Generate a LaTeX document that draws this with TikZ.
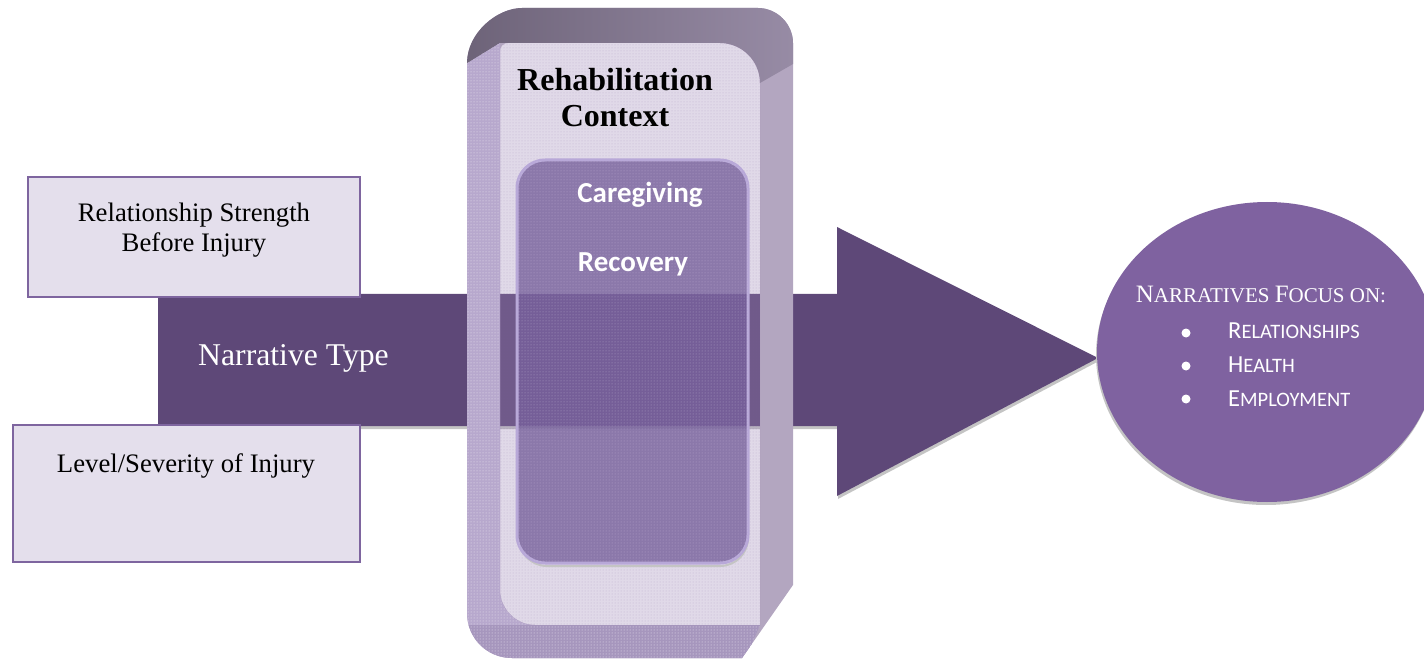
\documentclass[tikz,border=0pt]{standalone}
\usepackage{fontspec}
\setmainfont{Liberation Serif}
\newfontfamily\calfont{Carlito}
\usetikzlibrary{shapes.geometric,patterns}

\definecolor{arrowpurple}{RGB}{94,72,120}
\definecolor{boxfill}{RGB}{228,223,236}
\definecolor{boxline}{RGB}{126,101,159}
\definecolor{ellfill}{RGB}{127,98,160}
\definecolor{bodyside}{RGB}{179,166,192}
\definecolor{bodyleft}{RGB}{183,168,205}
\definecolor{bodybottom}{RGB}{166,150,189}
\definecolor{topdark}{RGB}{106,96,117}
\definecolor{toplight}{RGB}{152,140,166}
\definecolor{faceglass}{RGB}{155,132,180}
\definecolor{innerfill}{RGB}{119,96,156}
\definecolor{innerline}{RGB}{184,168,216}
\definecolor{shadowgray}{RGB}{196,196,196}

% small capitals built from two sizes
\newcommand\titlesc[1]{{\fontsize{21}{25}\selectfont #1}}
\newcommand\itemsc[1]{{\fontsize{20.5}{24}\selectfont #1}}

\begin{document}
\begin{tikzpicture}[x=1pt,y=-1pt,
  factorbox/.style={draw=boxline, line width=1.6pt, fill=boxfill, inner sep=0pt},
  seriftext/.style={anchor=base, font=\fontsize{26.7}{30}\selectfont, inner sep=0pt},
  ctxtext/.style={anchor=base, font=\fontsize{32}{36}\selectfont\bfseries, inner sep=0pt},
  calbold/.style={anchor=base, text=white, font=\calfont\bfseries\fontsize{29}{34}\selectfont, inner sep=0pt},
  itemtext/.style={anchor=base west, text=white, font=\calfont\fontsize{24.5}{28}\selectfont, inner sep=0pt},
  bulletdot/.style={circle, fill=white, inner sep=0pt, minimum size=9pt},
  grain/.style={pattern=dots, pattern color=#1},
  grain/.default=white]
\useasboundingbox (0,0) rectangle (1424,660);
\clip (0,0) rectangle (1424,660);

% ---- big flow arrow with its soft shadow
\fill[shadowgray, shift={(1,3)}] (158,294) -- (837,294) -- (837,227) -- (1098,358)
  -- (837,496) -- (837,426) -- (158,426) -- cycle;
\fill[arrowpurple] (158,294) -- (837,294) -- (837,227) -- (1098,358)
  -- (837,496) -- (837,426) -- (158,426) -- cycle;

% ---- outcome ellipse
\fill[shadowgray] (1266,355) ellipse [x radius=170, y radius=150];
\node[ellipse, fill=ellfill, minimum width=340pt, minimum height=300pt, inner sep=0pt]
  (focusell) at (1267,352) {};

% ---- factor boxes
\node[factorbox, minimum width=332pt, minimum height=120pt] (relbox) at (194,237) {};
\node[factorbox, minimum width=347pt, minimum height=137pt] (levbox) at (186.5,493.5) {};

% ---- rehabilitation context block (extruded rounded box)
% side bands, leaving the glass front open
\fill[bodyside, even odd rule]
  (467,63) .. controls (467,33) and (497,8) .. (522,8) -- (758,8)
  .. controls (777,8) and (793,24) .. (793,43) -- (793,585) -- (742,658) -- (512,658)
  .. controls (487,658) and (467,638) .. (467,613) -- cycle
  (500,51) .. controls (500,46) and (504,43) .. (508,43) -- (720,43)
  .. controls (742,43) and (760,61) .. (760,83) -- (760,625) -- (535,625)
  .. controls (516,625) and (500,609) .. (500,590) -- cycle;
\begin{scope}
  \clip (467,63) .. controls (467,33) and (497,8) .. (522,8) -- (758,8)
    .. controls (777,8) and (793,24) .. (793,43) -- (793,585) -- (742,658) -- (512,658)
    .. controls (487,658) and (467,638) .. (467,613) -- cycle;
  % top face
  \shade[left color=topdark, right color=toplight]
    (440,80) -- (500,43) -- (720,43) .. controls (742,43) and (760,61) .. (760,83)
    -- (800,60) -- (800,0) -- (440,0) -- cycle;
  % left and lower faces
  \fill[bodyleft]
    (440,80) -- (500,43) -- (500,590) .. controls (500,609) and (516,625) .. (535,625)
    -- (760,625) -- (740,670) -- (440,670) -- cycle;
  \fill[bodybottom] (440,625) -- (760,625) -- (740,670) -- (440,670) -- cycle;
  \fill[grain=white!85!boxline]
    (440,80) -- (500,43) -- (500,590) .. controls (500,609) and (516,625) .. (535,625)
    -- (760,625) -- (740,670) -- (440,670) -- cycle;
\end{scope}
% translucent front face
\fill[faceglass, fill opacity=0.31]
  (500,51) .. controls (500,46) and (504,43) .. (508,43) -- (720,43)
  .. controls (742,43) and (760,61) .. (760,83) -- (760,625) -- (535,625)
  .. controls (516,625) and (500,609) .. (500,590) -- cycle;
\fill[grain=boxline, fill opacity=0.35]
  (500,51) .. controls (500,46) and (504,43) .. (508,43) -- (720,43)
  .. controls (742,43) and (760,61) .. (760,83) -- (760,625) -- (535,625)
  .. controls (516,625) and (500,609) .. (500,590) -- cycle;

% inner panel with its shadow
\draw[shadowgray, line width=2pt, rounded corners=28pt]
  (519,530) -- (519,566) -- (748,566) -- (748,530);
\node[draw=innerline, line width=3pt, fill=innerfill, fill opacity=0.8, draw opacity=1,
  rounded corners=28pt, minimum width=231pt, minimum height=403pt, inner sep=0pt,
  postaction={grain=white!80!innerline, fill opacity=0.45}]
  (inner) at (632.5,361.5) {};

% ---- texts
\node[seriftext] (rel1) at (194,222) {Relationship Strength};
\node[seriftext] (rel2) at (194,252) {Before Injury};
\node[seriftext] (lev) at (186,472) {Level/Severity of Injury};
\node[seriftext, text=white, font=\fontsize{31.7}{36}\selectfont] (ntype) at (293.5,365) {Narrative Type};
\node[ctxtext] (rehab1) at (615,91) {Rehabilitation};
\node[ctxtext] (rehab2) at (615,127) {Context};
\node[calbold] (care) at (640,203) {Caregiving};
\node[calbold] (recov) at (633,272) {Recovery};

\node[anchor=base, text=white, inner sep=0pt, font=\fontsize{25}{30}\selectfont]
  (focus) at (1261,303) {N\titlesc{ARRATIVES }F\titlesc{OCUS ON:}};
\node[bulletdot] (b1) at (1186,333) {};
\node[bulletdot] (b2) at (1186,366) {};
\node[bulletdot] (b3) at (1186,399) {};
\node[itemtext] (item1) at (1228,338) {R\itemsc{ELATIONSHIPS}};
\node[itemtext] (item2) at (1228,372) {H\itemsc{EALTH}};
\node[itemtext] (item3) at (1228,406) {E\itemsc{MPLOYMENT}};
\end{tikzpicture}
\end{document}
